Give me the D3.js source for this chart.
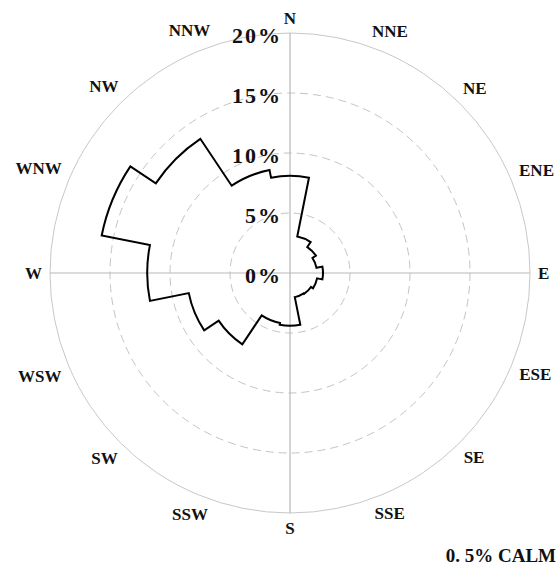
<!DOCTYPE html>
<html>
<head>
<meta charset="utf-8">
<script src="https://cdn.jsdelivr.net/npm/d3@7"></script>
<style>
  html, body { margin: 0; padding: 0; background: #fff; }
  svg { display: block; }
  text { font-family: "Liberation Serif", "Times New Roman", serif; font-weight: bold; fill: #111; }
</style>
</head>
<body>
<div id="chart"></div>
<script>
// 16-point wind rose: frequency (%) per direction sector
const directions = ["N","NNE","NE","ENE","E","ESE","SE","SSE","S","SSW","SW","WSW","W","WNW","NW","NNW"];
const frequency  = [8.1, 3.1, 2.6, 2.25, 2.75, 2.3, 2.1, 2.05, 4.4, 4.25, 7.15, 8.6, 11.9, 16.0, 13.45, 8.75];
const ringTicks  = [0, 5, 10, 15, 20];
const ringLabels = ["0%", "5%", "10%", "15%", "20%"];
const calmPct    = 0.5;

const W = 560, H = 565;
const cx = 290, cy = 273;

const svg = d3.select("#chart").append("svg")
  .attr("width", W).attr("height", H);

const r = d3.scaleLinear().domain([0, 20]).range([0, 240]);
const angle = d3.scaleLinear().domain([0, directions.length]).range([0, 2 * Math.PI]);

const g = svg.append("g");

// grid rings: inner ones dashed, outer one solid
g.selectAll("circle.ring")
  .data(ringTicks.filter(d => d > 0))
  .join("circle")
  .attr("class", "ring")
  .attr("cx", cx).attr("cy", cy)
  .attr("r", d => r(d))
  .attr("fill", "none")
  .attr("stroke", d => d === 20 ? "#c8c8c8" : "#c4c4c4")
  .attr("stroke-width", 1)
  .attr("stroke-dasharray", d => d === 20 ? null : "8,5");

// cross axes N-S and E-W
const rMax = r(20);
g.append("line").attr("x1", cx).attr("y1", cy - rMax).attr("x2", cx).attr("y2", cy + rMax)
  .attr("stroke", "#b8b8b8").attr("stroke-width", 1.2);
g.append("line").attr("x1", cx - rMax).attr("y1", cy).attr("x2", cx + rMax).attr("y2", cy)
  .attr("stroke", "#b8b8b8").attr("stroke-width", 1.2);

// rose outline: one arc per sector, joined by radial steps
const half = Math.PI / directions.length;
const p = d3.path();
frequency.forEach((v, i) => {
  const a = angle(i) - Math.PI / 2;
  p.arc(cx, cy, r(v), a - half, a + half);
});
p.closePath();
g.append("path")
  .attr("d", p.toString())
  .attr("fill", "none")
  .attr("stroke", "#000")
  .attr("stroke-width", 2)
  .attr("stroke-linejoin", "miter");

// ring value labels along the north axis
g.selectAll("text.tick")
  .data(ringTicks)
  .join("text")
  .attr("class", "tick")
  .attr("x", cx - 8)
  .attr("y", d => cy - r(d) + 9.5)
  .attr("text-anchor", "end")
  .attr("font-size", 22)
  .attr("letter-spacing", 2)
  .text((d, i) => ringLabels[i]);

// compass direction labels around the outside
const dirLabels = g.selectAll("text.dir")
  .data(directions)
  .join("text")
  .attr("class", "dir")
  .attr("font-size", 17)
  .attr("text-anchor", "middle")
  .attr("dominant-baseline", "central")
  .text(d => d);

dirLabels.each(function(d, i) {
  const th = angle(i);
  const w = this.getComputedTextLength();
  const h = 14;
  const R = 248 + 0.5 * (w * Math.abs(Math.sin(th)) + h * Math.abs(Math.cos(th)));
  d3.select(this)
    .attr("x", cx + R * Math.sin(th))
    .attr("y", cy - R * Math.cos(th));
});

// calm percentage note
svg.append("text")
  .attr("x", 556).attr("y", 562)
  .attr("text-anchor", "end")
  .attr("font-size", 19)
  .text(`0. ${Math.round(calmPct * 10)}% CALM`);
</script>
</body>
</html>
